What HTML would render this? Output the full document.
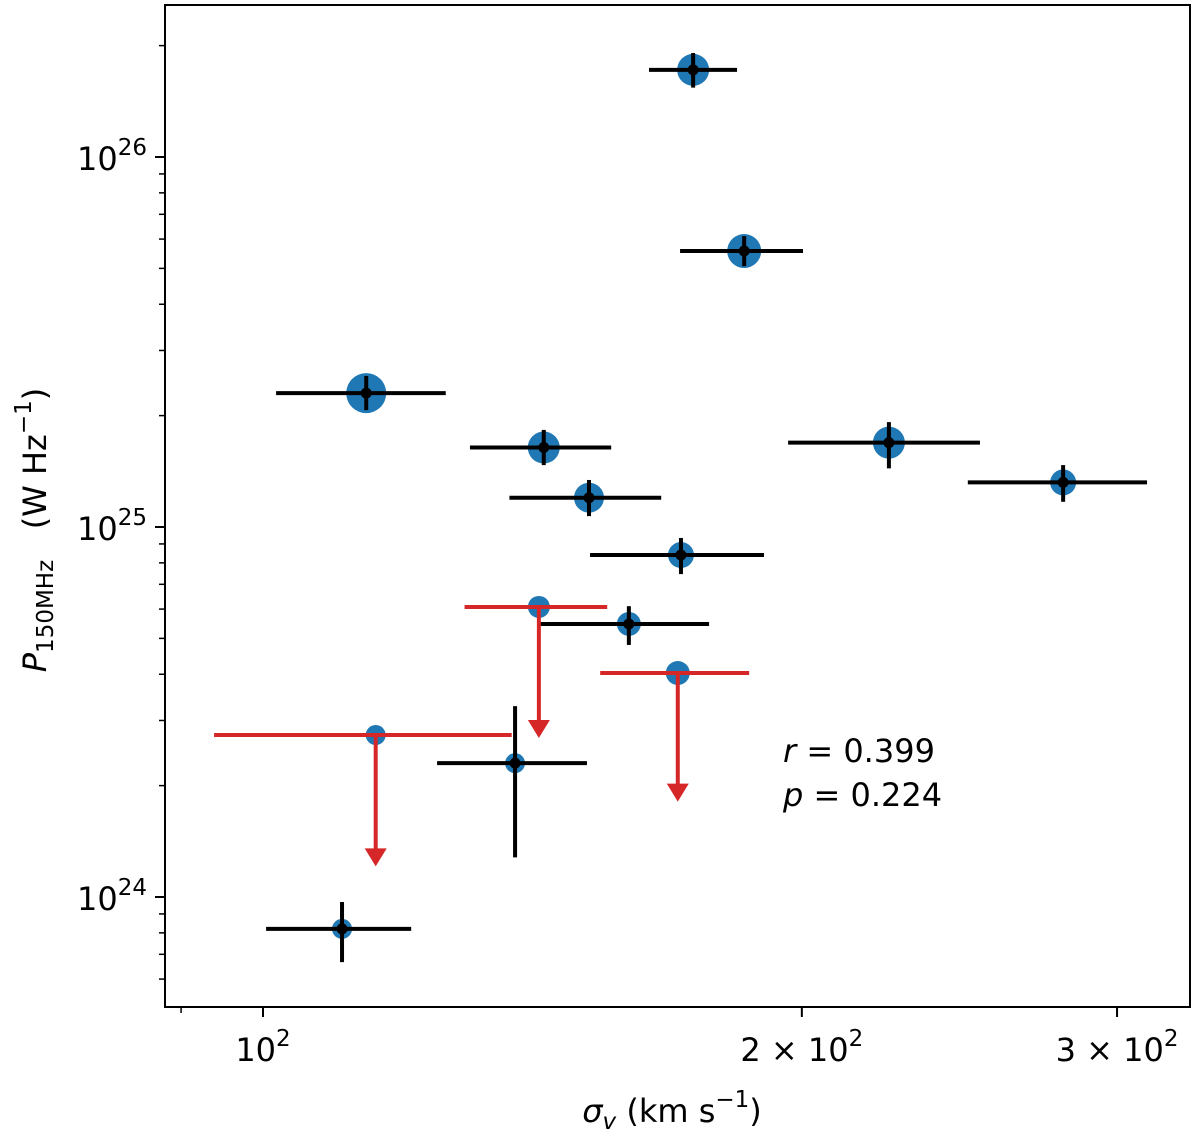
<!DOCTYPE html>
<html><head><meta charset="utf-8"><style>
body{margin:0;background:#fff;}
svg text{font-family:"DejaVu Sans","Liberation Sans",sans-serif;}
</style></head><body>
<svg id="chart" width="1200" height="1140" xmlns="http://www.w3.org/2000/svg"></svg>
<script>
// detections
const sigma    = [173.9,185.7,114.2,143.5,152.1,223.7,279.9,171.2,160.1,138.3,110.7];
const sigmaLo  = [164.3,171.0,101.7,130.5,137.3,196.5,247.6,152.3,142.8,125.1,100.4];
const sigmaHi  = [184.0,200.3,126.5,156.5,166.9,251.5,311.8,190.5,177.5,151.7,121.0];
const power    = [1.72e26,5.57e25,2.30e25,1.64e25,1.20e25,1.69e25,1.32e25,8.40e24,5.47e24,2.30e24,8.20e23];
const powerLo  = [1.54e26,5.07e25,2.07e25,1.47e25,1.07e25,1.44e25,1.17e25,7.46e24,4.80e24,1.28e24,6.67e23];
const powerHi  = [1.91e26,6.11e25,2.56e25,1.83e25,1.34e25,1.92e25,1.47e25,9.34e24,6.11e24,3.28e24,9.69e23];
const markerR  = [16,17,20,16,15,16,13,13,12,10,10];
// upper limits
const limSigma   = [142.6,170.5,115.6];
const limSigmaLo = [129.6,154.3,93.9];
const limSigmaHi = [155.7,186.9,137.7];
const limPower   = [6.08e24,4.03e24,2.74e24];
const limArrowTo = [2.69e24,1.81e24,1.21e24];
const limR       = [11,12,10];
const xMajor = [100,200,300];
const xMajorLabels = ["10<sup>2</sup>","2 × 10<sup>2</sup>","3 × 10<sup>2</sup>"];
const yMajor = [1e24,1e25,1e26];

const L=165,R=1190,T=5,B=1007;
const X=v=>263+1790*Math.log10(v/100);
const Y=p=>157-370*(Math.log10(p)-26);
const svg=document.getElementById('chart');
const NS='http://www.w3.org/2000/svg';
function mk(tag,attrs,parent){const e=document.createElementNS(NS,tag);for(const k in attrs)e.setAttribute(k,attrs[k]);(parent||svg).appendChild(e);return e;}

const frame=mk('rect',{x:L,y:T,width:R-L,height:B-T,fill:'none',stroke:'#000','stroke-width':2});



for(let e=23;e<=26;e++){for(let m=1;m<10;m++){const p=m*Math.pow(10,e);const y=Y(p);if(y<T||y>B)continue;
 const t=mk('line',{x1:L,x2:L-(m==1?10:6),y1:y,y2:y,stroke:'#000','stroke-width':m==1?2:1.5});
 
 }}
yMajor.forEach(p=>{const y=Y(p);
 const t=mk('text',{x:L-18,y:y+13,'font-size':32,'text-anchor':'end'});
 
 
 t.innerHTML='10<tspan dy="-15" font-size="23">'+Math.round(Math.log10(p))+'</tspan>';});
[90,100,200,300].forEach(v=>{const x=X(v);const maj=xMajor.includes(v);
 const t=mk('line',{x1:x,x2:x,y1:B,y2:B+(maj?10:6),stroke:'#000','stroke-width':maj?2:1.5});
 
 });
xMajor.forEach((v,i)=>{const x=X(v);
 const t=mk('text',{x:x,y:B+54,'font-size':32,'text-anchor':'middle'});
 
 
 t.innerHTML=xMajorLabels[i].replace('<sup>','<tspan dy="-15" font-size="23">').replace('</sup>','</tspan>');});

const xt=mk('text',{x:672,y:1122,'font-size':32,'text-anchor':'middle'});


xt.innerHTML='<tspan font-style="italic">σ<tspan font-size="23" dy="7">v</tspan></tspan><tspan dy="-7"> (km s</tspan><tspan dy="-15" font-size="23">−1</tspan><tspan dy="15">)</tspan>';
const yt=mk('text',{x:0,y:0,'font-size':32,'text-anchor':'middle',transform:'translate(46,530) rotate(-90)'});


yt.innerHTML='<tspan font-style="italic">P</tspan><tspan font-size="23" dy="7">150MHz</tspan><tspan dy="-7" xml:space="preserve">   (W Hz</tspan><tspan dy="-15" font-size="23">−1</tspan><tspan dy="15">)</tspan>';
yt.setAttribute('xml:space','preserve');

sigma.forEach((v,i)=>{
 const g=mk('g',{});
 
 
 const cx=X(v),cy=Y(power[i]);
 mk('circle',{cx:cx,cy:cy,r:markerR[i],fill:'#1f77b4'},g);
 mk('line',{x1:X(sigmaLo[i]),x2:X(sigmaHi[i]),y1:cy,y2:cy,stroke:'#000','stroke-width':4},g);
 mk('line',{x1:cx,x2:cx,y1:Y(powerLo[i]),y2:Y(powerHi[i]),stroke:'#000','stroke-width':4},g);
 mk('circle',{cx:cx,cy:cy,r:5.5,fill:'#000'},g);
});
limSigma.forEach((v,i)=>{
 const g=mk('g',{});
 
 
 const cx=X(v),cy=Y(limPower[i]),ey=Y(limArrowTo[i]);
 mk('circle',{cx:cx,cy:cy,r:limR[i],fill:'#1f77b4'},g);
 mk('line',{x1:X(limSigmaLo[i]),x2:X(limSigmaHi[i]),y1:cy,y2:cy,stroke:'#d62728','stroke-width':4},g);
 mk('line',{x1:cx,x2:cx,y1:cy,y2:ey-14,stroke:'#d62728','stroke-width':4},g);
 mk('polygon',{points:`${cx-11},${ey-18} ${cx+11},${ey-18} ${cx},${ey}`,fill:'#d62728'},g);
});

const s1=mk('text',{x:783,y:762,'font-size':32});


s1.innerHTML='<tspan font-style="italic">r</tspan> = 0.399';
const s2=mk('text',{x:783,y:806,'font-size':32});


s2.innerHTML='<tspan font-style="italic">p</tspan> = 0.224';
</script>
</body></html>
